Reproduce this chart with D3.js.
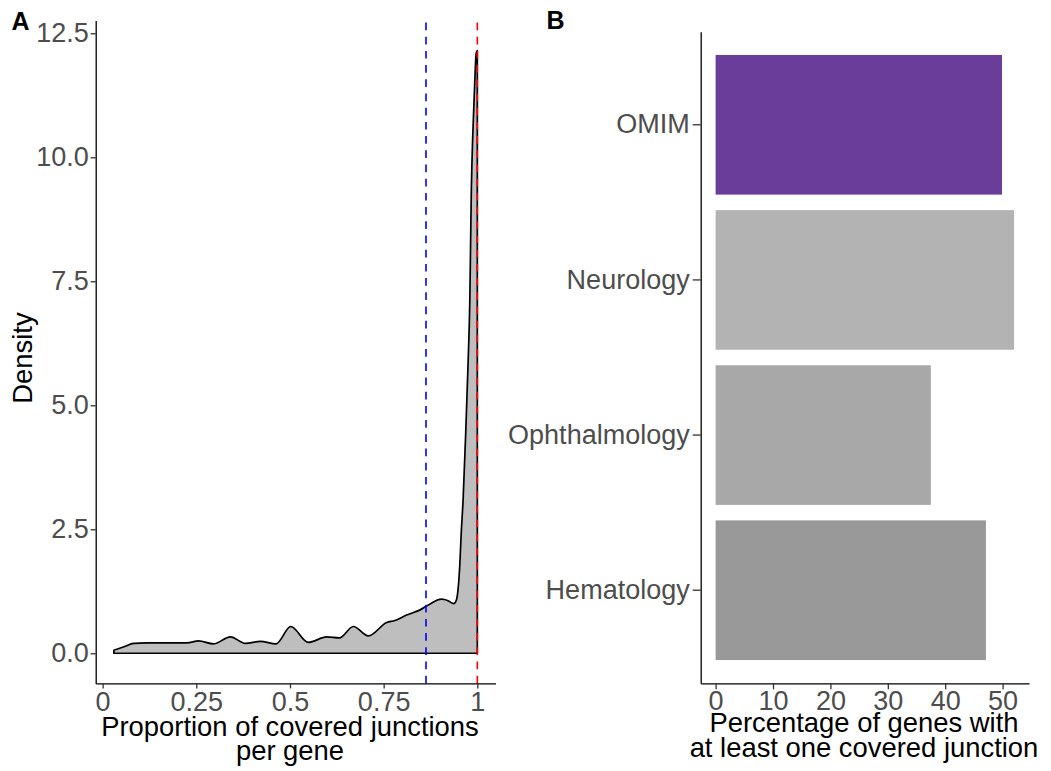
<!DOCTYPE html>
<html>
<head>
<meta charset="utf-8">
<script src="https://cdn.jsdelivr.net/npm/d3@7"></script>
<style>
  html, body { margin: 0; padding: 0; background: #fff; }
  svg { display: block; font-family: "Liberation Sans", Arial, Helvetica, sans-serif; }
</style>
</head>
<body>
<svg id="fig" width="1051" height="771"></svg>
<script>
// ---- Panel A: density of the proportion of covered junctions per gene ----
const densityX = [0.030, 0.057, 0.083, 0.119, 0.172, 0.225, 0.256, 0.296, 0.341, 0.381,
                  0.421, 0.463, 0.502, 0.549, 0.598, 0.632, 0.669, 0.709, 0.758, 0.780,
                  0.811, 0.846, 0.873, 0.904, 0.922, 0.937, 0.944, 0.950, 0.953, 0.957,
                  0.962, 0.969, 0.975, 0.980, 0.984, 0.988, 0.993, 0.997, 1.000];
const densityY = [0.06, 0.13, 0.20, 0.21, 0.21, 0.21, 0.25, 0.19, 0.33, 0.20,
                  0.24, 0.19, 0.54, 0.22, 0.33, 0.31, 0.54, 0.35, 0.62, 0.66,
                  0.77, 0.87, 0.99, 1.09, 1.06, 1.00, 1.07, 1.41, 1.75, 2.42,
                  3.09, 4.44, 5.78, 7.13, 9.34, 10.48, 11.49, 12.10, 12.15];
const densityTicks = [0, 0.25, 0.5, 0.75, 1];
const densityTickLabels = ["0", "0.25", "0.5", "0.75", "1"];
const densityYTicks = [0, 2.5, 5, 7.5, 10, 12.5];
const blueLineX = 0.863;   // reference line (blue)
const redLineX = 1.0;      // full coverage (red)

// ---- Panel B: percentage of genes with at least one covered junction ----
const panels = ["OMIM", "Neurology", "Ophthalmology", "Hematology"];
const percentages = [49.9, 52.0, 37.5, 47.1];
const barColors = ["#6A3D9A", "#B3B3B3", "#A8A8A8", "#999999"];
const percentTicks = [0, 10, 20, 30, 40, 50];

const svg = d3.select("#fig");
svg.append("rect").attr("width", 1051).attr("height", 771).attr("fill", "#fff");

const tickColor = "#4D4D4D";
const tickFont = 27;
const titleFont = 27.4;

function styleAxis(g) {
  g.select(".domain").attr("stroke", "#000").attr("stroke-width", 1.3);
  g.selectAll(".tick line").attr("stroke", "#333").attr("stroke-width", 1.3);
  g.selectAll(".tick text").attr("fill", tickColor).attr("font-size", tickFont)
    .attr("font-family", "Liberation Sans, Arial, sans-serif");
}

// ===== Panel A =====
{
  const xMin = d3.min(densityX), xMax = d3.max(densityX);
  const xPad = (xMax - xMin) * 0.05;
  const yMax = d3.max(densityY);
  const yPad = yMax * 0.05;

  const x = d3.scaleLinear().domain([xMin - xPad, xMax + xPad]).range([95.7, 495.5]);
  const y = d3.scaleLinear().domain([-yPad, yMax + yPad]).range([683.4, 20.5]);

  const pts = densityX.map((d, i) => [d, densityY[i]]);

  const area = d3.area()
    .x(d => x(d[0])).y0(y(0)).y1(d => y(d[1]))
    .curve(d3.curveMonotoneX);
  svg.append("path").datum(pts)
    .attr("d", area).attr("fill", "#BEBEBE");

  // closed outline: curve, right edge down, baseline back, left edge up
  const line = d3.line().x(d => x(d[0])).y(d => y(d[1])).curve(d3.curveMonotoneX);
  const outline = line(pts) +
    "L" + x(xMax) + "," + y(0) +
    "L" + x(xMin) + "," + y(0) + "Z";
  svg.append("path").attr("d", outline)
    .attr("fill", "none").attr("stroke", "#000").attr("stroke-width", 1.7)
    .attr("stroke-linejoin", "round");

  // vertical reference lines
  [[blueLineX, "#0000FF"], [redLineX, "#FF0000"]].forEach(([v, c]) => {
    svg.append("line")
      .attr("x1", x(v)).attr("x2", x(v))
      .attr("y1", y.range()[0]).attr("y2", y.range()[1])
      .attr("stroke", c).attr("stroke-width", 1.6)
      .attr("stroke-dasharray", "7.7,6.5");
  });

  const gx = svg.append("g").attr("transform", `translate(0,${y.range()[0]})`)
    .call(d3.axisBottom(x).tickValues(densityTicks)
      .tickFormat((d, i) => densityTickLabels[i])
      .tickSize(5).tickSizeOuter(0).tickPadding(3));
  styleAxis(gx);

  const gy = svg.append("g").attr("transform", `translate(${x.range()[0]},0)`)
    .call(d3.axisLeft(y).tickValues(densityYTicks)
      .tickFormat(d3.format(".1f"))
      .tickSize(5).tickSizeOuter(0).tickPadding(2));
  styleAxis(gy);

  svg.append("text").attr("x", 290).attr("y", 736)
    .attr("text-anchor", "middle").attr("font-size", titleFont).attr("fill", "#000")
    .text("Proportion of covered junctions");
  svg.append("text").attr("x", 290).attr("y", 760)
    .attr("text-anchor", "middle").attr("font-size", titleFont).attr("fill", "#000")
    .text("per gene");
  svg.append("text")
    .attr("transform", "translate(31.5,358) rotate(-90)")
    .attr("text-anchor", "middle").attr("font-size", titleFont).attr("fill", "#000")
    .text("Density");

  svg.append("text").attr("x", 11.5).attr("y", 29.5)
    .attr("font-size", 25).attr("font-weight", "bold").attr("fill", "#000").text("A");
}

// ===== Panel B =====
{
  const xMax = d3.max(percentages);
  const xPad = xMax * 0.05;
  const x = d3.scaleLinear().domain([-xPad, xMax + xPad]).range([700.7, 1029]);
  const y = d3.scaleBand().domain(panels).range([31.7, 683.3])
    .paddingInner(0.1).paddingOuter(0.15);

  svg.append("g").selectAll("rect")
    .data(panels)
    .join("rect")
    .attr("x", x(0))
    .attr("y", d => y(d))
    .attr("width", (d, i) => x(percentages[i]) - x(0))
    .attr("height", y.bandwidth())
    .attr("fill", (d, i) => barColors[i]);

  const gx = svg.append("g").attr("transform", `translate(0,${y.range()[1]})`)
    .call(d3.axisBottom(x).tickValues(percentTicks)
      .tickSize(6).tickSizeOuter(0).tickPadding(2));
  styleAxis(gx);

  const gy = svg.append("g").attr("transform", `translate(${x.range()[0]},0)`)
    .call(d3.axisLeft(y).tickSize(8).tickSizeOuter(0).tickPadding(3));
  styleAxis(gy);

  svg.append("text").attr("x", 864).attr("y", 732)
    .attr("text-anchor", "middle").attr("font-size", titleFont).attr("fill", "#000")
    .text("Percentage of genes with");
  svg.append("text").attr("x", 864).attr("y", 757)
    .attr("text-anchor", "middle").attr("font-size", titleFont).attr("fill", "#000")
    .text("at least one covered junction");

  svg.append("text").attr("x", 546.5).attr("y", 28.5)
    .attr("font-size", 25).attr("font-weight", "bold").attr("fill", "#000").text("B");
}
</script>
</body>
</html>
